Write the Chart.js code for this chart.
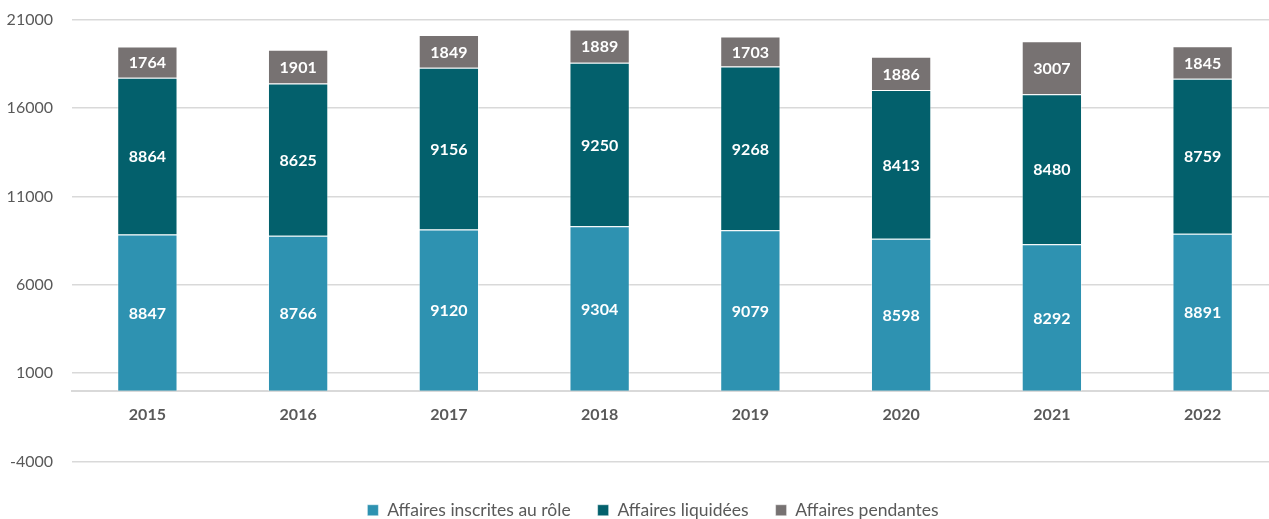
<!DOCTYPE html>
<html lang="fr">
<head>
<meta charset="utf-8">
<script src="https://cdn.jsdelivr.net/npm/chart.js@4/dist/chart.umd.min.js"></script>
<style>
  html, body { margin: 0; padding: 0; background: #fff; overflow: hidden; }
  #wrap { width: 1306px; height: 530px; margin-top: -9px; position: relative; }
</style>
</head>
<body>
<div id="wrap"><canvas id="chart"></canvas></div>
<script>
// Années et séries empilées
const years = ['2015', '2016', '2017', '2018', '2019', '2020', '2021', '2022'];
const inscrites = [8847, 8766, 9120, 9304, 9079, 8598, 8292, 8891];
const liquidees = [8864, 8625, 9156, 9250, 9268, 8413, 8480, 8759];
const pendantes = [1764, 1901, 1849, 1889, 1703, 1886, 3007, 1845];
const yTicks = [-4000, 1000, 6000, 11000, 16000, 21000];

const FONT = 'Lato, "Open Sans", sans-serif';
const TEXT_GREY = '#595959';

// étiquettes blanches au centre de chaque segment
const segmentLabels = {
    id: 'segmentLabels',
    afterDatasetsDraw(chart) {
        const ctx = chart.ctx;
        ctx.save();
        ctx.font = `bold 16px ${FONT}`;
        ctx.fillStyle = '#ffffff';
        ctx.textAlign = 'center';
        ctx.textBaseline = 'middle';
        chart.data.datasets.forEach((ds, i) => {
            const meta = chart.getDatasetMeta(i);
            meta.data.forEach((bar, j) => {
                const yMid = (bar.y + bar.base) / 2;
                ctx.fillText(String(ds.data[j]), bar.x, yMid + 1);
            });
        });
        ctx.restore();
    }
};

// décale la légende : centrée sur toute la largeur, un peu plus bas
const legendShift = {
    id: 'legendShift',
    afterLayout(chart) {
        const lg = chart.legend;
        if (!lg) return;
        lg.left += 14; lg.right += 14;
        lg.top += 13; lg.bottom += 13;
    }
};

function makeSeries(label, data, color) {
    return {
        label,
        data,
        backgroundColor: color,
        borderColor: 'rgba(255,255,255,0.45)',
        borderWidth: 1,
        categoryPercentage: 1,
        barPercentage: 0.4,
    };
}

new Chart(document.getElementById('chart'), {
    type: 'bar',
    data: {
        labels: years,
        datasets: [
            makeSeries('Affaires inscrites au rôle', inscrites, '#2E92B1'),
            makeSeries('Affaires liquidées', liquidees, '#03606C'),
            makeSeries('Affaires pendantes', pendantes, '#777272'),
        ],
    },
    options: {
        responsive: true,
        maintainAspectRatio: false,
        animation: false,
        layout: { padding: { left: 0, right: 28, top: 0, bottom: 5 } },
        plugins: {
            legend: {
                position: 'bottom',
                labels: {
                    boxWidth: 11,
                    boxHeight: 11,
                    padding: 27,
                    color: TEXT_GREY,
                    font: { family: FONT, size: 17.5 },
                    useBorderRadius: false,
                },
            },
            tooltip: { enabled: false },
        },
        scales: {
            x: {
                stacked: true,
                position: { y: 0 },
                grid: { display: false, drawTicks: false },
                border: { display: true, color: '#D9D9D9', width: 2 },
                ticks: {
                    color: TEXT_GREY,
                    padding: 14,
                    font: { family: FONT, size: 16, weight: 'bold' },
                },
            },
            y: {
                stacked: true,
                min: -4000,
                max: 21000,
                afterBuildTicks(scale) {
                    scale.ticks = yTicks.map(v => ({ value: v }));
                },
                afterFit(scale) { scale.width = 72; },
                grid: { color: '#D9D9D9', lineWidth: 1.5, drawTicks: false },
                border: { display: false },
                ticks: {
                    color: TEXT_GREY,
                    padding: 19,
                    font: { family: FONT, size: 16 },
                    callback: v => String(v),
                },
            },
        },
    },
    plugins: [segmentLabels, legendShift],
});
</script>
</body>
</html>
